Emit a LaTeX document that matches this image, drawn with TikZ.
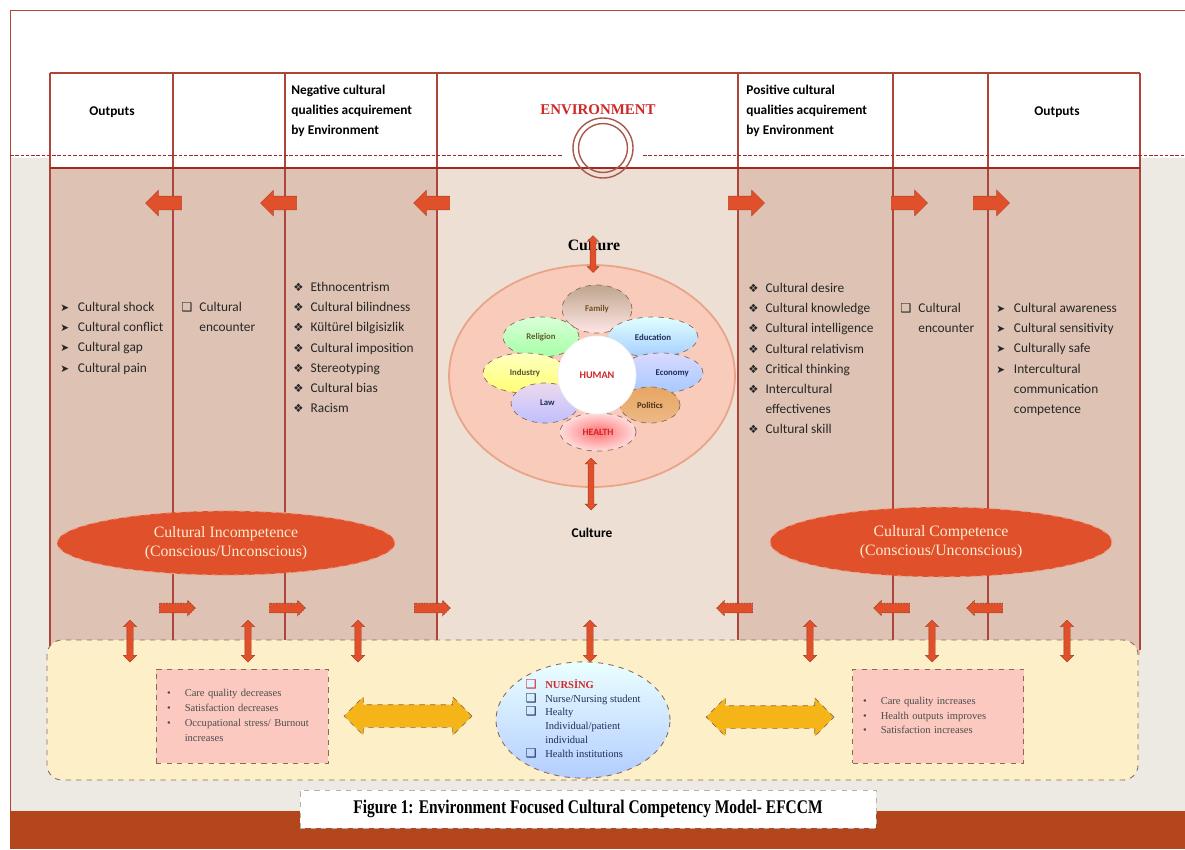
\documentclass[tikz,border=0pt]{standalone}
\usepackage{fontspec}
\usepackage{graphicx}
\setmainfont{Liberation Serif}
\setsansfont{Carlito}
\newfontfamily\symfont{DejaVu Sans}
\usetikzlibrary{shapes.geometric,shapes.arrows,positioning}

\definecolor{frameline}{HTML}{B0443A}
\definecolor{darkline}{HTML}{A02A22}
\definecolor{pagegrey}{HTML}{EDE9E3}
\definecolor{bandbrown}{HTML}{B4461E}
\definecolor{coltan}{HTML}{DEC3B4}
\definecolor{colcentre}{HTML}{EDDFD4}
\definecolor{arroworange}{HTML}{E0502A}
\definecolor{panelyellow}{HTML}{FDF0C9}
\definecolor{boxpink}{HTML}{FBC9C0}
\definecolor{culturepeach}{HTML}{F9CBBB}
\definecolor{peachedge}{HTML}{E9A487}
\definecolor{dashbrown}{HTML}{8C6A58}
\definecolor{goldarrow}{HTML}{F5B417}
\definecolor{ringbrown}{HTML}{A8584A}
\definecolor{envred}{HTML}{D02828}
\definecolor{creamtext}{HTML}{FDEBD2}
\definecolor{navytext}{HTML}{1E2E5A}

\newcommand{\bularrow}{{\symfont\fontsize{6}{6}\selectfont ➤}}
\newcommand{\buldiamond}{{\symfont\fontsize{6.5}{6}\selectfont ❖}}
\newcommand{\bulsquare}{{\symfont\fontsize{7}{6}\selectfont ❑}}

\tikzset{
  headtext/.style={font=\sffamily\bfseries\fontsize{7.6}{11.4}\selectfont, inner sep=0pt},
  listtext/.style={font=\sffamily\fontsize{7.6}{11.5}\selectfont, anchor=north west, inner sep=0pt, text=black!85},
  bigarrow/.style={single arrow, fill=arroworange, draw=arroworange!85!black, line width=0.3pt,
    minimum height=0.72cm, inner xsep=0pt, inner ysep=0.13cm, single arrow head extend=0.12cm},
  smallarrow/.style={single arrow, fill=arroworange, draw=arroworange!65!black, dashed,
    dash pattern=on 1pt off 0.6pt, line width=0.3pt, minimum height=0.72cm, inner xsep=0pt,
    inner ysep=0.09cm, single arrow head extend=0.06cm},
  linkarrow/.style={double arrow, rotate=90, fill=arroworange, draw=arroworange!70!black,
    line width=0.2pt, minimum height=0.84cm, inner xsep=0pt, inner ysep=0.06cm, double arrow head extend=0.07cm},
  culturearrow/.style={double arrow, rotate=90, fill=arroworange, draw=arroworange!70!black,
    line width=0.2pt, inner xsep=0pt, inner ysep=0.055cm, double arrow head extend=0.06cm},
  goldlink/.style={double arrow, fill=goldarrow, draw=dashbrown, dashed, line width=0.4pt,
    minimum height=2.56cm, inner xsep=0pt, inner ysep=0.22cm, double arrow head extend=0.16cm},
  petal/.style={ellipse, draw=dashbrown, dashed, line width=0.4pt, inner sep=0pt,
    font=\sffamily\bfseries\fontsize{5}{6}\selectfont},
  compell/.style={ellipse, fill=arroworange, draw=arroworange!55!white, dashed, line width=0.6pt,
    text=creamtext, align=center, font=\rmfamily\fontsize{9}{11}\selectfont},
  outcome/.style={rectangle, fill=boxpink, draw=dashbrown, dashed, line width=0.5pt,
    minimum height=1.88cm, inner xsep=0.2cm, align=left, font=\rmfamily\fontsize{6}{8.5}\selectfont, text=black!70}
}

\begin{document}
\begin{tikzpicture}[x=0.02cm, y=-0.02cm]
	\useasboundingbox (0,0) rectangle (1185,849);
	% page
	\fill[white] (0,0) rectangle (1185,849);
	\fill[pagegrey] (10,158) rectangle (1185,849);
	\draw[frameline, line width=0.5pt] (10,849) -- (10,10) -- (1185,10);
	% columns
	\fill[white] (50,73) rectangle (1140,168);
	\fill[coltan] (50,168) rectangle (437,655);
	\fill[colcentre] (437,168) rectangle (738,655);
	\fill[coltan] (738,168) rectangle (1140,655);
	\draw[frameline, line width=0.6pt] (50,73) -- (1140,73);
	\foreach \x in {50,173,285,437,738,893,988,1140} {
		\draw[frameline, line width=0.6pt] (\x,73) -- (\x,650);
	}
	\draw[darkline, dashed, dash pattern=on 2pt off 1pt, line width=0.5pt] (10,155) -- (563,155);
	\draw[darkline, dashed, dash pattern=on 2pt off 1pt, line width=0.5pt] (643,155) -- (1185,155);
	\draw[darkline, line width=1.3pt] (50,168) -- (1140,168);
	\node[circle, draw=ringbrown, line width=0.8pt, minimum size=1.2cm, inner sep=0pt] (envring) at (603,148) {};
	\node[circle, draw=ringbrown, line width=0.8pt, minimum size=0.98cm, inner sep=0pt] at (envring) {};

	% header
	\node[headtext] (outleft) at (112,112) {Outputs};
	\node[headtext, anchor=north west] (neghead) at (291,80)
		{\begin{tabular}{@{}l@{}}Negative cultural\\qualities acquirement\\by Environment\end{tabular}};
	\node[font=\rmfamily\bfseries\fontsize{8.5}{10}\selectfont, text=envred] (envtitle) at (598,110) {ENVIRONMENT};
	\node[headtext, anchor=north west] (poshead) at (746,80)
		{\begin{tabular}{@{}l@{}}Positive cultural\\qualities acquirement\\by Environment\end{tabular}};
	\node[headtext] (outright) at (1057,112) {Outputs};

	% flow arrows
	\foreach \x [count=\i] in {167,282,435} {
		\node[bigarrow, shape border rotate=180] (negflow\i) at (\x,203) {};
	}
	\foreach \x [count=\i] in {743,906,988} {
		\node[bigarrow] (posflow\i) at (\x,203) {};
	}

	% lists
	\node[listtext] (negout) at (60,297) {\begin{tabular}{@{}l@{\hspace{5pt}}l@{}}
		\bularrow & Cultural shock\\ \bularrow & Cultural conflict\\
		\bularrow & Cultural gap\\ \bularrow & Cultural pain\end{tabular}};
	\node[listtext] (negenc) at (181,297) {\begin{tabular}{@{}l@{\hspace{4pt}}l@{}}
		\bulsquare & Cultural\\ & encounter\end{tabular}};
	\node[listtext] (negqual) at (293,277) {\begin{tabular}{@{}l@{\hspace{4pt}}l@{}}
		\buldiamond & Ethnocentrism\\ \buldiamond & Cultural bilindness\\
		\buldiamond & Kültürel bilgisizlik\\ \buldiamond & Cultural imposition\\
		\buldiamond & Stereotyping\\ \buldiamond & Cultural bias\\
		\buldiamond & Racism\end{tabular}};
	\node[listtext] (posqual) at (748,278) {\begin{tabular}{@{}l@{\hspace{4pt}}l@{}}
		\buldiamond & Cultural desire\\ \buldiamond & Cultural knowledge\\
		\buldiamond & Cultural intelligence\\ \buldiamond & Cultural relativism\\
		\buldiamond & Critical thinking\\ \buldiamond & Intercultural\\
		& effectivenes\\ \buldiamond & Cultural skill\end{tabular}};
	\node[listtext] (posenc) at (900,298) {\begin{tabular}{@{}l@{\hspace{4pt}}l@{}}
		\bulsquare & Cultural\\ & encounter\end{tabular}};
	\node[listtext] (posout) at (996,298) {\begin{tabular}{@{}l@{\hspace{5pt}}l@{}}
		\bularrow & Cultural awareness\\ \bularrow & Cultural sensitivity\\
		\bularrow & Culturally safe\\ \bularrow & Intercultural\\
		& communication\\ & competence\end{tabular}};

	% culture and human
	\node[font=\rmfamily\bfseries\fontsize{9}{10}\selectfont] (culturetop) at (594,245) {Culture};
	\node[ellipse, fill=culturepeach, draw=peachedge, line width=1pt, minimum width=5.72cm, minimum height=4.44cm] (culture) at (592,376) {};
	\node[petal, top color=brown!55!gray!70, bottom color=pink!40!white, minimum width=1.4cm, minimum height=0.96cm, text=brown!60!black] (family) at (597,309) {Family};
	\node[petal, top color=green!15!white, bottom color=green!35!white, minimum width=1.52cm, minimum height=0.8cm, text=olive!60!black] (religion) at (541,337) {Religion};
	\node[petal, top color=cyan!12!white, bottom color=cyan!45!blue!35!white, minimum width=1.8cm, minimum height=0.8cm, text=navytext] (education) at (653,337) {Education};
	\node[petal, top color=yellow!25!white, bottom color=yellow!55!white, minimum width=1.68cm, minimum height=0.8cm, text=olive!50!black] (industry) at (525,373) {Industry};
	\node[petal, top color=blue!15!white, bottom color=cyan!40!blue!35!white, minimum width=1.68cm, minimum height=0.8cm, text=navytext] (economy) at (661,373) {\hspace{0.45cm}Economy};
	\node[petal, top color=violet!15!white, bottom color=blue!25!white, minimum width=1.36cm, minimum height=0.8cm, text=navytext] (law) at (545,403) {\hspace{0.1cm}Law};
	\node[petal, top color=orange!50!brown!70, bottom color=orange!45!brown!55, minimum width=1.2cm, minimum height=0.72cm, text=brown!40!black] (politics) at (650,405) {Politics};
	\node[petal, inner color=red!55!white, outer color=pink!55!white, minimum width=1.52cm, minimum height=0.76cm, text=envred, font=\sffamily\bfseries\fontsize{5.5}{6}\selectfont] (health) at (598,432) {HEALTH};
	\node[circle, fill=white, draw=white!90!gray, minimum size=1.56cm, inner sep=0pt, text=envred, font=\sffamily\bfseries\fontsize{5.8}{6}\selectfont] (human) at (597,375) {HUMAN};
	\node[culturearrow, minimum height=0.74cm] (cultureup) at (593,254) {};
	\node[culturearrow, minimum height=1.04cm] (culturedown) at (591,484) {};
	\node[font=\sffamily\bfseries\fontsize{7.6}{9}\selectfont] (culturebot) at (592,533) {Culture};

	% competence
	\node[compell, minimum width=6.76cm, minimum height=1.28cm] (incomp) at (226,543) {Cultural Incompetence\\(Conscious/Unconscious)};
	\node[compell, minimum width=6.84cm, minimum height=1.4cm] (comp) at (941,542) {Cultural Competence\\(Conscious/Unconscious)};
	\foreach \x [count=\i] in {175,285,430} {
		\node[smallarrow] (negback\i) at (\x,608) {};
	}
	\foreach \x [count=\i] in {737,894,987} {
		\node[smallarrow, shape border rotate=180] (posback\i) at (\x,608) {};
	}

	% nursing panel
	\draw[dashbrown, dashed, line width=0.5pt, fill=panelyellow, rounded corners=0.3cm] (47,640) rectangle (1138,780);
	\foreach \x [count=\i] in {130,248,358,590,810,932,1067} {
		\node[linkarrow] (link\i) at (\x,641) {};
	}
	\node[outcome, minimum width=3.44cm, text width=3.0cm] (worse) at (242,716) {\begin{tabular}{@{}l@{\hspace{8pt}}l@{}}
		• & Care quality decreases\\ • & Satisfaction decreases\\
		• & Occupational stress/ Burnout\\ & increases\end{tabular}};
	\node[outcome, minimum width=3.42cm, text width=3.0cm] (better) at (938,716) {\begin{tabular}{@{}l@{\hspace{8pt}}l@{}}
		• & Care quality increases\\ • & Health outputs improves\\
		• & Satisfaction increases\end{tabular}};
	\node[ellipse, top color=cyan!8!white, bottom color=cyan!35!blue!30!white, draw=dashbrown, dashed, line width=0.5pt,
		minimum width=3.48cm, minimum height=2.08cm, inner sep=0pt, text=navytext, font=\rmfamily\fontsize{6}{7.8}\selectfont] (nursing) at (583,720)
		{\begin{tabular}{@{}l@{\hspace{5pt}}l@{}}
		\textcolor{envred}{\bulsquare} & \textcolor{envred}{\bfseries NURSİNG}\\
		\bulsquare & Nurse/Nursing student\\ \bulsquare & Healty\\
		& Individual/patient\\ & individual\\ \bulsquare & Health institutions\end{tabular}};
	\node[goldlink] (linkleft) at (408,716) {};
	\node[goldlink] (linkright) at (770,717) {};

	% caption
	\fill[bandbrown] (10,811) rectangle (1185,849);
	\node[fill=white, draw=gray!60, dashed, line width=0.4pt, minimum width=11.52cm, minimum height=0.76cm, inner sep=0pt,
		font=\rmfamily\bfseries\fontsize{11}{13}\selectfont] (caption) at (588,809)
		{\scalebox{0.8}[1]{Figure 1: Environment Focused Cultural Competency Model- EFCCM}};
\end{tikzpicture}
\end{document}
